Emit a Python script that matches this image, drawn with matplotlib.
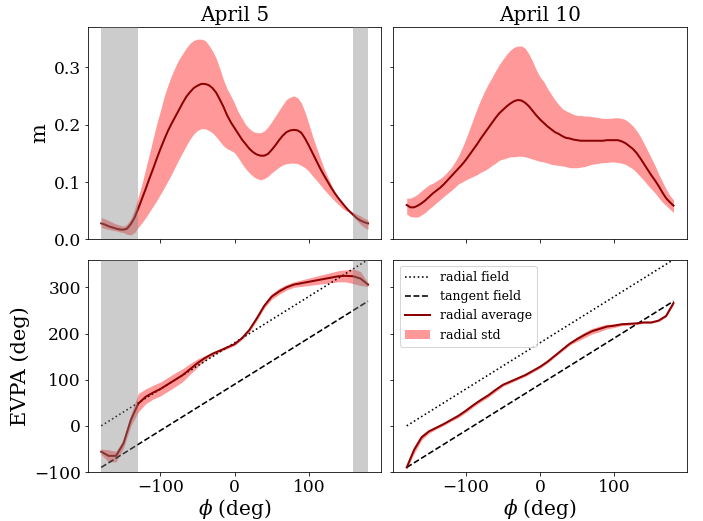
import matplotlib
matplotlib.use('Agg')
import matplotlib.pyplot as plt
import numpy as np

plt.rcParams['font.family'] = 'DejaVu Serif'
plt.rcParams['mathtext.fontset'] = 'dejavuserif'

PHI_M = np.arange(-180, 181, 5)
PHI_E = np.arange(-180, 181, 10)
TITLES = ['April 5', 'April 10']

# polarization fraction m (April 5), every 5 deg
M5_MEAN = [0.028, 0.026, 0.023, 0.021, 0.019, 0.0175, 0.017,
           0.019, 0.027, 0.038, 0.054, 0.071, 0.088, 0.106, 0.123, 0.141, 0.158,
           0.174, 0.189, 0.202, 0.214, 0.226, 0.238, 0.249, 0.257, 0.264, 0.268,
           0.271, 0.271, 0.269, 0.264, 0.256, 0.244, 0.231, 0.216, 0.204, 0.194,
           0.184, 0.174, 0.166, 0.158, 0.152, 0.148, 0.146, 0.146, 0.149, 0.156,
           0.164, 0.173, 0.181, 0.187, 0.190, 0.191, 0.190, 0.186, 0.176, 0.164,
           0.151, 0.138, 0.125, 0.113, 0.102, 0.091, 0.081, 0.072, 0.064, 0.056,
           0.049, 0.043, 0.037, 0.033, 0.030, 0.028]
M5_UP = [0.038, 0.036, 0.033, 0.030, 0.027, 0.025, 0.023,
         0.027, 0.036, 0.053, 0.074, 0.097, 0.123, 0.149, 0.176, 0.202, 0.225,
         0.249, 0.269, 0.286, 0.301, 0.314, 0.324, 0.334, 0.342, 0.347, 0.349,
         0.349, 0.347, 0.339, 0.329, 0.316, 0.298, 0.278, 0.262, 0.250, 0.237,
         0.222, 0.211, 0.200, 0.193, 0.188, 0.186, 0.186, 0.189, 0.196, 0.205,
         0.215, 0.225, 0.235, 0.244, 0.248, 0.250, 0.247, 0.238, 0.222, 0.202,
         0.181, 0.162, 0.144, 0.126, 0.111, 0.097, 0.083, 0.072, 0.063, 0.054,
         0.051, 0.047, 0.044, 0.041, 0.037, 0.034]
M5_LO = [0.021, 0.019, 0.0175, 0.016, 0.015, 0.013, 0.012,
         0.009, 0.008, 0.012, 0.021, 0.029, 0.038, 0.048, 0.058, 0.068, 0.079,
         0.090, 0.102, 0.114, 0.127, 0.140, 0.152, 0.164, 0.175, 0.184, 0.190,
         0.193, 0.193, 0.190, 0.186, 0.179, 0.171, 0.163, 0.158, 0.155, 0.151,
         0.142, 0.132, 0.123, 0.116, 0.110, 0.106, 0.104, 0.106, 0.110, 0.116,
         0.121, 0.126, 0.130, 0.132, 0.133, 0.133, 0.132, 0.129, 0.125, 0.119,
         0.111, 0.104, 0.096, 0.088, 0.081, 0.074, 0.067, 0.061, 0.055, 0.050,
         0.048, 0.040, 0.033, 0.026, 0.021, 0.0175]

# polarization fraction m (April 10), every 5 deg
M10_MEAN = [0.060, 0.056, 0.056, 0.059, 0.063, 0.068, 0.074,
            0.080, 0.085, 0.090, 0.096, 0.103, 0.110, 0.117, 0.124, 0.131, 0.139,
            0.148, 0.157, 0.166, 0.176, 0.185, 0.194, 0.203, 0.212, 0.220, 0.226,
            0.232, 0.237, 0.241, 0.243, 0.242, 0.238, 0.232, 0.224, 0.216, 0.209,
            0.203, 0.197, 0.192, 0.187, 0.184, 0.180, 0.177, 0.176, 0.174, 0.173,
            0.172, 0.172, 0.172, 0.172, 0.172, 0.172, 0.172, 0.173, 0.173, 0.173,
            0.173, 0.171, 0.168, 0.163, 0.158, 0.151, 0.142, 0.132, 0.122, 0.112,
            0.103, 0.093, 0.082, 0.072, 0.065, 0.059]
M10_UP = [0.072, 0.072, 0.075, 0.079, 0.085, 0.090, 0.095,
          0.098, 0.102, 0.106, 0.111, 0.118, 0.125, 0.135, 0.146, 0.160, 0.176,
          0.193, 0.211, 0.228, 0.244, 0.258, 0.271, 0.282, 0.294, 0.305, 0.314,
          0.323, 0.330, 0.335, 0.337, 0.337, 0.333, 0.323, 0.310, 0.295, 0.283,
          0.275, 0.263, 0.253, 0.243, 0.235, 0.228, 0.224, 0.221, 0.218, 0.216,
          0.216, 0.215, 0.215, 0.214, 0.213, 0.212, 0.211, 0.211, 0.211, 0.212,
          0.212, 0.211, 0.209, 0.204, 0.198, 0.190, 0.180, 0.168, 0.155, 0.142,
          0.129, 0.114, 0.101, 0.088, 0.077, 0.069]
M10_LO = [0.044, 0.040, 0.039, 0.039, 0.043, 0.047, 0.053,
          0.058, 0.064, 0.069, 0.075, 0.080, 0.085, 0.091, 0.097, 0.100, 0.104,
          0.107, 0.110, 0.113, 0.117, 0.120, 0.124, 0.129, 0.133, 0.138, 0.140,
          0.142, 0.144, 0.144, 0.145, 0.145, 0.144, 0.142, 0.140, 0.138, 0.136,
          0.135, 0.133, 0.131, 0.130, 0.129, 0.128, 0.127, 0.125, 0.125, 0.125,
          0.126, 0.127, 0.129, 0.131, 0.132, 0.133, 0.134, 0.134, 0.135, 0.135,
          0.134, 0.133, 0.131, 0.127, 0.123, 0.117, 0.110, 0.103, 0.095, 0.088,
          0.081, 0.073, 0.065, 0.059, 0.053, 0.047]

# EVPA in degrees (April 5), every 10 deg
E5_MEAN = [-56, -65, -65, -38, 13, 48, 63, 72, 80, 90,
           100, 110, 123, 136, 147, 156, 163, 170, 177, 190,
           208, 233, 260, 280, 291, 300, 306, 309, 312, 315,
           318, 321, 324, 325, 324, 319, 306]
E5_UP = [-50, -52, -55, -30, 25, 70, 80, 88, 95, 105,
         115, 124, 135, 145, 152, 160, 166, 173, 180, 193,
         212, 238, 265, 286, 298, 306, 312, 316, 320, 324,
         328, 332, 336, 338, 340, 334, 310]
E5_LO = [-62, -78, -78, -48, 0, 30, 48, 58, 65, 75,
         85, 96, 112, 127, 142, 152, 160, 167, 174, 187,
         204, 228, 255, 274, 285, 294, 300, 302, 304, 306,
         308, 310, 312, 312, 308, 304, 302]

# EVPA in degrees (April 10), every 10 deg
E10_MEAN = [-90, -52, -25, -12, -4, 4, 13, 22, 33, 45,
            56, 66, 78, 89, 96, 103, 110, 119, 128, 139,
            152, 165, 178, 188, 197, 205, 210, 215, 217, 220,
            221, 222, 224, 224, 228, 238, 266]
E10_UP = [-84, -44, -19, -8, -1, 7, 16, 26, 37, 49,
          60, 70, 82, 92, 99, 106, 113, 122, 131, 142,
          155, 168, 181, 193, 203, 211, 216, 220, 221, 223,
          224, 224, 226, 226, 230, 240, 270]
E10_LO = [-94, -60, -31, -16, -7, 1, 10, 18, 29, 41,
          52, 62, 74, 86, 93, 100, 107, 116, 125, 136,
          149, 162, 175, 183, 191, 199, 204, 210, 213, 217,
          218, 220, 222, 222, 226, 236, 262]

# masked phi ranges (April 5 only)
MASKS = [(-180, -130), (160, 180)]

M_MEAN = [M5_MEAN, M10_MEAN]
M_UP = [M5_UP, M10_UP]
M_LO = [M5_LO, M10_LO]
E_MEAN = [E5_MEAN, E10_MEAN]
E_UP = [E5_UP, E10_UP]
E_LO = [E5_LO, E10_LO]


def main():
    fig, axes = plt.subplots(2, 2, figsize=(703 / 72, 521 / 72), dpi=72,
                             sharex=True, sharey='row')
    fig.subplots_adjust(left=0.125, right=0.977, top=0.948, bottom=0.094,
                        wspace=0.041, hspace=0.095)

    for i in range(2):
        ax = axes[0, i]
        ax.fill_between(PHI_M, M_LO[i], M_UP[i], color='red', alpha=0.4, lw=0)
        ax.plot(PHI_M, M_MEAN[i], color='darkred', lw=2)
        ax.set_title(TITLES[i], fontsize=20)

        ax = axes[1, i]
        ax.plot(PHI_E, PHI_E + 180, ':', color='black', lw=1.6,
                label='radial field')
        ax.plot(PHI_E, PHI_E + 90, '--', color='black', lw=1.6,
                label='tangent field')
        ax.plot(PHI_E, E_MEAN[i], color='darkred', lw=2,
                label='radial average')
        ax.fill_between(PHI_E, E_LO[i], E_UP[i], color='red', alpha=0.4, lw=0,
                        label='radial std')
        ax.set_xlabel(r'$\phi$ (deg)', fontsize=20, labelpad=1)

    for ax in axes[:, 0]:
        for lo, hi in MASKS:
            ax.axvspan(lo, hi, color='gray', alpha=0.4, lw=0, zorder=3)

    axes[0, 0].set_ylim(0, 0.37)
    axes[1, 0].set_ylim(-100, 360)
    axes[0, 0].set_yticks([0.0, 0.1, 0.2, 0.3])
    axes[1, 0].set_yticks([-100, 0, 100, 200, 300])
    axes[0, 0].set_ylabel('m', fontsize=21)
    axes[1, 0].set_ylabel('EVPA (deg)', fontsize=21)
    axes[1, 1].legend(loc='upper left', fontsize=12.5)

    for ax in axes.flat:
        ax.tick_params(labelsize=17)

    fig.savefig('out.png', dpi=72)


if __name__ == '__main__':
    main()
